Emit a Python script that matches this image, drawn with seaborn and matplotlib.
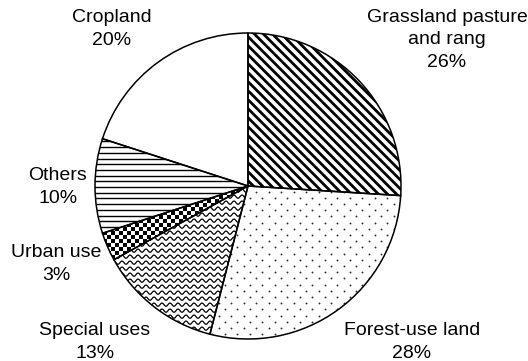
import numpy as np
import matplotlib
matplotlib.use("Agg")
import matplotlib.pyplot as plt
from matplotlib.collections import LineCollection
import seaborn as sns

# Land-use shares, clockwise from 12 o'clock
categories = ["Grassland pasture\nand rang", "Forest-use land", "Special uses",
              "Urban use", "Others", "Cropland"]
shares = [26, 28, 13, 3, 10, 20]
pct_labels = [f"{v}%" for v in shares]
textures = ["diagonal", "dots", "waves", "checker", "hlines", "blank"]

sns.set_theme(style="white")
plt.rcParams["font.family"] = ["Liberation Sans", "DejaVu Sans"]

W, H, DPI = 528, 361, 100
R_PX = 153            # pie radius in pixels
CX, CY = 248, 186     # pie centre in pixels (from top-left)
fig = plt.figure(figsize=(W / DPI, H / DPI), dpi=DPI)
fig.patch.set_facecolor("white")
ax = fig.add_axes([(CX - R_PX) / W, (H - CY - R_PX) / H, 2 * R_PX / W, 2 * R_PX / H])

px = 1.0 / R_PX       # one pixel in data units

fills, _ = ax.pie(shares, startangle=90, counterclock=False,
                  colors=["white"] * len(shares),
                  wedgeprops=dict(edgecolor="none", zorder=1))
outlines, _ = ax.pie(shares, startangle=90, counterclock=False,
                     wedgeprops=dict(fill=False, edgecolor="black",
                                     linewidth=1.1, zorder=3))


def add_texture(kind, wedge):
    arts = []
    if kind == "diagonal":
        segs = [[(-1.1, 1.1 + c), (1.1, -1.1 + c)]
                for c in np.arange(-2.2, 2.2, 9 * px)]
        arts.append(ax.add_collection(LineCollection(segs, colors="black",
                                                     linewidths=2.0, zorder=2)))
    elif kind == "dots":
        xs, ys = [], []
        for i, y in enumerate(np.arange(-1.05, 1.05, 6.2 * px)):
            row = np.arange(-1.05, 1.05, 12.5 * px) + (i % 2) * 6.25 * px
            xs.extend(row)
            ys.extend([y] * len(row))
        arts.append(ax.scatter(xs, ys, s=1.8, c="#2a2a2a", linewidths=0,
                               zorder=2))
    elif kind == "waves":
        xw = np.arange(-1.05, 1.05, 0.4 * px)
        segs = [np.column_stack([xw, y0 + 1.6 * px * np.sin(2 * np.pi * xw / (8 * px))])
                for y0 in np.arange(-1.05, 1.05, 6 * px)]
        arts.append(ax.add_collection(LineCollection(segs, colors="black",
                                                     linewidths=0.9, zorder=2)))
    elif kind == "checker":
        cell = 4 * px
        n = int(np.ceil(2.1 / cell))
        board = (np.add.outer(np.arange(n), np.arange(n)) % 2).astype(float)
        arts.append(ax.imshow(board, cmap="gray", interpolation="nearest",
                              extent=[-1.05, -1.05 + n * cell, -1.05, -1.05 + n * cell],
                              zorder=2))
    elif kind == "hlines":
        segs = [[(-1.1, y), (1.1, y)] for y in np.arange(-1.05, 1.05, 5.7 * px)]
        arts.append(ax.add_collection(LineCollection(segs, colors="black",
                                                     linewidths=1.0, zorder=2)))
    for a in arts:
        a.set_clip_path(wedge)


for kind, wedge in zip(textures, fills):
    add_texture(kind, wedge)

# Label anchors (data units, centre of each text block)
label_pos = [(1.30, 0.955), (1.07, -1.02), (-1.0, -1.02),
             (-1.252, -0.51), (-1.242, -0.007), (-0.889, 1.026)]
for cat, pct, (lx, ly) in zip(categories, pct_labels, label_pos):
    ax.text(lx, ly, f"{cat}\n{pct}", ha="center", va="center",
            fontsize=14, linespacing=1.4, color="black", clip_on=False)

ax.set_xlim(-1, 1)
ax.set_ylim(-1, 1)
ax.set_aspect("equal")
ax.axis("off")

fig.savefig("out.png", dpi=DPI, facecolor="white")
